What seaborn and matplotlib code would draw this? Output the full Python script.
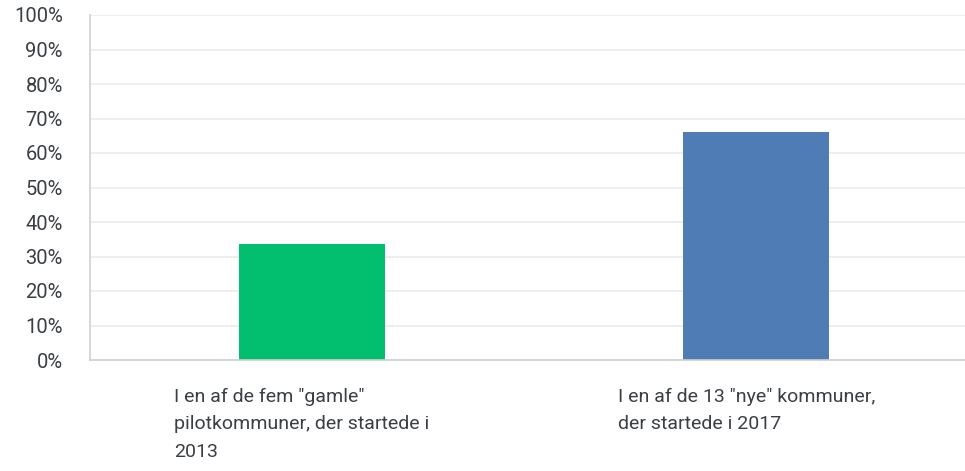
import pandas as pd
import seaborn as sns
import matplotlib.pyplot as plt
from matplotlib.ticker import PercentFormatter
import matplotlib.transforms as mtransforms

# chart values
categories = ['I en af de fem "gamle"\npilotkommuner, der startede i\n2013',
              'I en af de 13 "nye" kommuner,\nder startede i 2017']
shares = [33.5, 66.0]
bar_colors = ['#02bf6f', '#4f7cb4']
yticks = list(range(0, 101, 10))

data = pd.DataFrame({'group': categories, 'share': shares})

sns.set_theme(style='white')
plt.rcParams['font.family'] = ['Roboto', 'DejaVu Sans']

fig = plt.figure(figsize=(9.65, 4.71), dpi=100)
# plot area runs a bit past the right edge, as in the source image
ax = fig.add_axes([90 / 965, 1 - 360 / 471, 888 / 965, 345 / 471])

sns.barplot(data=data, x='group', y='share', hue='group', palette=bar_colors,
            width=0.329, legend=False, ax=ax, saturation=1, linewidth=0)

ax.set_ylim(0, 100)
ax.set_yticks(yticks)
ax.yaxis.set_major_formatter(PercentFormatter(decimals=0))
ax.set_xlim(-0.5, 1.5)
ax.grid(axis='y', color='#ebebeb', linewidth=1.2)
ax.set_axisbelow(True)
ax.set_xlabel('')
ax.set_ylabel('')
ax.set_xticks(range(len(categories)))
ax.set_xticklabels([])
ax.tick_params(axis='y', labelsize=14.5, labelcolor='#3a3f45', length=0, pad=19.5)
ax.tick_params(axis='x', length=0)

for side in ['top', 'right']:
    ax.spines[side].set_visible(False)
for side in ['left', 'bottom']:
    ax.spines[side].set_color('#d0d0d0')
    ax.spines[side].set_linewidth(1.2)

# category labels, left aligned under bars
trans = mtransforms.blended_transform_factory(ax.transData, ax.transAxes)
for i, label in enumerate(categories):
    ax.text(i - 0.31, -0.08, label, transform=trans, ha='left', va='top',
            fontsize=14, color='#3a3f45', linespacing=1.7)

fig.savefig('out.png', dpi=100)
